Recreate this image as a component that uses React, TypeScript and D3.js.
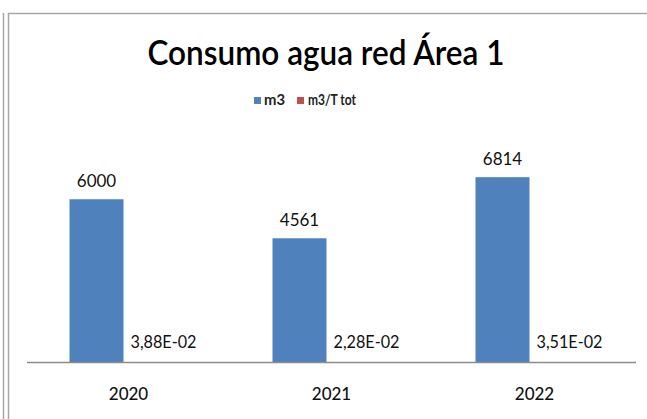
import React from "react";
import * as d3 from "d3";

const categories = ["2020", "2021", "2022"];
const seriesNames = ["m3", "m3/T tot"];
const m3Values = [6000, 4561, 6814];
const ratioValues = [0.0388, 0.0228, 0.0351];
const ratioLabels = ["3,88E-02", "2,28E-02", "3,51E-02"];
const colors = ["#4f81bd", "#c0504d"];

const W = 647;
const H = 419;
const FONT = "Lato, 'Open Sans', sans-serif";

export default function App() {
  const axisLeft = 27;
  const axisRight = 636;
  const baseY = 362;

  const x = d3.scaleBand().domain(categories).range([axisLeft, axisRight]).padding(0);
  const barW = 54;
  const groupOffset = -5;
  const y = d3.scaleLinear().domain([0, 8000]).range([baseY, 145]);

  return (
    <svg
      width={W}
      height={H}
      style={{ position: "absolute", left: 0, top: 0, background: "#fff" }}
      fontFamily={FONT}
    >
      <rect x={0} y={0} width={W} height={H} fill="#fff" />
      {/* frame lines */}
      <line x1={3.5} y1={13} x2={3.5} y2={H} stroke="#a6a6a6" strokeWidth={1.5} />
      <line x1={8.5} y1={13} x2={8.5} y2={H} stroke="#a6a6a6" strokeWidth={1.5} />
      <line x1={8} y1={13.5} x2={W} y2={13.5} stroke="#a6a6a6" strokeWidth={1.5} />

      {/* title */}
      <text
        x={326}
        y={65}
        textAnchor="middle"
        fontSize={34}
        fontWeight={600}
        fill="#000"
        textLength={357}
        lengthAdjust="spacingAndGlyphs"
      >
        Consumo agua red Área 1
      </text>

      {/* legend */}
      <g fontSize={15} fontWeight={700} fill="#222">
        <rect x={254} y={97} width={7} height={7} fill={colors[0]} />
        <text x={264} y={105} textLength={21} lengthAdjust="spacingAndGlyphs">
          {seriesNames[0]}
        </text>
        <rect x={297} y={97} width={7} height={7} fill={colors[1]} />
        <text x={308} y={105} textLength={48} lengthAdjust="spacingAndGlyphs">
          {seriesNames[1]}
        </text>
      </g>

      {/* bars */}
      {categories.map((c, i) => {
        const cx = (x(c) as number) + x.bandwidth() / 2 + groupOffset;
        const x0 = cx - barW;
        const x1 = cx;
        const yTop = y(m3Values[i]);
        const yR = y(ratioValues[i]);
        return (
          <g key={c}>
            <rect x={x0} y={yTop} width={barW} height={baseY - yTop} fill={colors[0]} />
            <rect x={x1} y={yR} width={barW} height={baseY - yR} fill={colors[1]} />
            <text
              x={x0 + barW / 2}
              y={yTop - 12}
              textAnchor="middle"
              fontSize={17}
              fill="#111"
            >
              {d3.format("d")(m3Values[i])}
            </text>
            <text
              x={x1 + 7}
              y={yR - 14}
              fontSize={17}
              fill="#111"
              textLength={66}
              lengthAdjust="spacingAndGlyphs"
            >
              {ratioLabels[i]}
            </text>
          </g>
        );
      })}

      {/* axis */}
      <line x1={axisLeft} y1={baseY + 0.5} x2={axisRight} y2={baseY + 0.5} stroke="#8c8c8c" strokeWidth={1.5} />
      {categories.map((c) => (
        <text
          key={c}
          x={(x(c) as number) + x.bandwidth() / 2}
          y={400}
          textAnchor="middle"
          fontSize={17}
          fontWeight={500}
          fill="#111"
        >
          {c}
        </text>
      ))}
    </svg>
  );
}
